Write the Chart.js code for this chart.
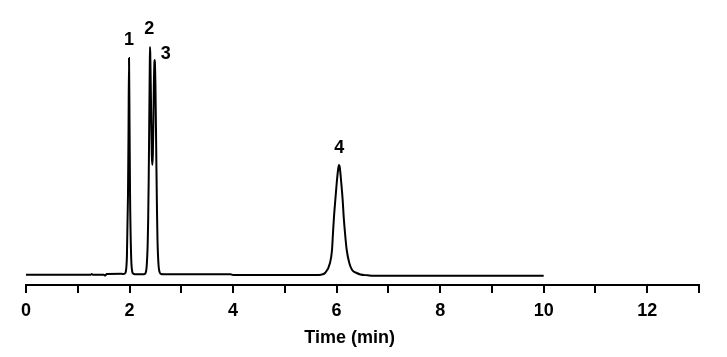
<!DOCTYPE html>
<html>
<head>
<meta charset="utf-8">
<script src="https://cdn.jsdelivr.net/npm/chart.js@4/dist/chart.umd.min.js"></script>
<style>
  html, body { margin: 0; padding: 0; background: #ffffff; }
  #wrap { width: 727px; height: 357px; }
</style>
</head>
<body>
<div id="wrap"><canvas id="c" width="727" height="357"></canvas></div>
<script>
// Retention time (min)
const times = [
  0.00, 1.25, 1.27, 1.29, 1.50, 1.53, 1.56, 1.85,
  1.88, 1.91, 1.93, 1.95, 1.97, 1.98, 1.99, 2.00, 2.01, 2.03, 2.05, 2.07, 2.10,
  2.28, 2.31, 2.33, 2.35, 2.36, 2.37, 2.38, 2.39, 2.395, 2.40, 2.41, 2.42, 2.43, 2.44,
  2.45, 2.46, 2.47, 2.48, 2.485, 2.49, 2.50, 2.51, 2.52, 2.53, 2.54, 2.56, 2.58, 2.61,
  2.65, 3.95, 4.00, 5.60,
  5.70, 5.776, 5.872, 5.911, 5.930, 5.949, 5.975, 6.002, 6.03, 6.046, 6.06,
  6.090, 6.117, 6.137, 6.162, 6.195, 6.245, 6.30, 6.388, 6.46,
  6.60, 6.70, 10.00
];
// Detector signal (arbitrary units)
const signal = [
  0.3, 0.3, 1.0, 0.3, 0.3, -0.5, 1.0, 1.2,
  1.0, 1.5, 4, 20, 80, 140, 217, 150, 80, 20, 4, 1.5, 0.8,
  0.8, 2, 8, 30, 55, 95, 150, 205, 228, 222, 190, 150, 120, 110,
  120, 150, 190, 212, 215, 212, 190, 150, 105, 65, 35, 10, 3, 1.0,
  0.8, 0.8, 0, 0,
  0.3, 2, 12, 25, 42, 58, 75, 92, 106, 110, 108,
  92, 75, 58, 42, 25, 12, 5, 2, 0.5,
  -0.3, -0.8, -0.8
];
// Peak annotations
const peakLabels = ['1', '2', '3', '4'];
const peakLabelTimes = [1.99, 2.38, 2.70, 6.05];
const peakLabelValues = [235, 246, 221, 127];
// Axis
const xTickLabels = ['0', '', '2', '', '4', '', '6', '', '8', '', '10', '', '12', ''];
const xTitle = 'Time (min)';
const xTitleAt = 6.25;

const FONT = '"Liberation Sans", Arial, sans-serif';

const labelPlugin = {
  id: 'peakLabels',
  afterDraw(chart) {
    const ctx = chart.ctx;
    const xs = chart.scales.x, ys = chart.scales.y;
    ctx.save();
    ctx.fillStyle = '#000';
    ctx.font = 'bold 18px ' + FONT;
    ctx.textAlign = 'center';
    ctx.textBaseline = 'middle';
    peakLabels.forEach((t, i) => {
      ctx.fillText(t, xs.getPixelForValue(peakLabelTimes[i]), ys.getPixelForValue(peakLabelValues[i]));
    });
    ctx.font = 'bold 18px ' + FONT;
    ctx.fillText(xTitle, xs.getPixelForValue(xTitleAt), 338);
    ctx.restore();
  }
};

new Chart(document.getElementById('c'), {
  type: 'line',
  data: {
    datasets: [{
      data: times.map((t, i) => ({ x: t, y: signal[i] })),
      borderColor: '#000',
      borderWidth: 2,
      pointRadius: 0,
      cubicInterpolationMode: 'monotone',
      fill: false
    }]
  },
  options: {
    responsive: false,
    animation: false,
    events: [],
    layout: { padding: { left: 26, right: 28, top: 10, bottom: 0 } },
    plugins: { legend: { display: false }, tooltip: { enabled: false } },
    scales: {
      x: {
        type: 'linear',
        min: 0,
        max: 13,
        afterFit: s => { s.height = 72; },
        border: { display: true, color: '#000', width: 2 },
        grid: { display: true, drawOnChartArea: false, drawTicks: true, tickLength: 8, tickColor: '#000', lineWidth: 2 },
        ticks: {
          stepSize: 1,
          autoSkip: false,
          maxRotation: 0,
          color: '#000',
          padding: 7,
          font: { family: FONT, size: 18, weight: 'bold' },
          callback: (v) => xTickLabels[Math.round(v)] ?? ''
        }
      },
      y: {
        display: false,
        min: -10,
        max: 265
      }
    }
  },
  plugins: [labelPlugin]
});
</script>
</body>
</html>
